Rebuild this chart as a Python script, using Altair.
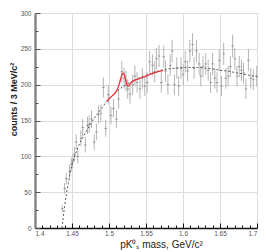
import altair as alt
import pandas as pd

# ---- data ----
mass = [1.4369, 1.4400, 1.4423, 1.4467, 1.4490, 1.4510, 1.4533, 1.4556, 1.4578,
        1.4620, 1.4644, 1.4680, 1.4710, 1.4733, 1.4764, 1.4800, 1.4830, 1.4858,
        1.4890, 1.4924, 1.4956, 1.4990, 1.5027, 1.5060, 1.5100, 1.5130, 1.5173,
        1.5204, 1.5230, 1.5253, 1.5284, 1.5320, 1.5350, 1.5380, 1.5418, 1.5450,
        1.5484, 1.5516, 1.5550, 1.5587, 1.5618, 1.5640, 1.5676, 1.5707, 1.5740,
        1.5764, 1.5796, 1.5827, 1.5853, 1.5884, 1.5916, 1.5942, 1.5973, 1.6004,
        1.6030, 1.6062, 1.6093, 1.6129, 1.6150, 1.6182, 1.6218, 1.6240, 1.6270,
        1.6307, 1.6340, 1.6373, 1.6400, 1.6430, 1.6460, 1.6490, 1.6520, 1.6550,
        1.6580, 1.6610, 1.6640, 1.6670, 1.6700, 1.6730, 1.6760, 1.6790, 1.6818,
        1.6850, 1.6884, 1.6916, 1.6950, 1.6996]
counts = [27, 55, 69, 79, 89, 93, 103, 120, 100,
          125, 140, 116, 143, 145, 152, 120, 134, 158,
          160, 196, 139, 186, 157, 167, 152, 180, 218,
          209, 205, 194, 187, 200, 212, 203, 194, 209,
          198, 203, 232, 227, 218, 236, 240, 203, 239,
          219, 200, 227, 247, 200, 223, 198, 223, 214,
          232, 219, 247, 256, 223, 247, 229, 212, 225,
          229, 220, 203, 229, 209, 203, 234, 198, 243,
          209, 212, 225, 254, 236, 212, 225, 220, 216,
          194, 234, 209, 207, 212]

bg_mass = [1.4365, 1.4380, 1.4400, 1.4425, 1.4450, 1.4475, 1.4500, 1.4550, 1.4600,
           1.4650, 1.4700, 1.4750, 1.4800, 1.4850, 1.4900, 1.4950, 1.5000, 1.5100,
           1.5200, 1.5300, 1.5400, 1.5500, 1.5600, 1.5700, 1.5800, 1.5900, 1.6000,
           1.6100, 1.6200, 1.6300, 1.6400, 1.6500, 1.6600, 1.6700, 1.6800, 1.6900,
           1.7000]
bg_val = [0, 14, 30, 48, 62, 76, 88, 104, 117,
          127, 136, 145, 153, 160, 167, 174, 180, 190,
          198, 204, 209, 213, 217, 220, 222, 223, 224,
          224, 224, 223, 222, 220, 219, 217, 215, 213,
          211]

sig_mass = [1.4970, 1.5000, 1.5050, 1.5100, 1.5130, 1.5160, 1.5180, 1.5195,
            1.5210, 1.5230, 1.5250, 1.5270, 1.5300, 1.5400, 1.5500, 1.5600,
            1.5730]
sig_val = [177, 180, 185, 191, 198, 209, 215, 216,
           213, 204, 198, 199, 203, 208, 212, 216,
           220]

x_major = [1.4, 1.45, 1.5, 1.55, 1.6, 1.65, 1.7]
x_minor = [1.4, 1.41, 1.42, 1.43, 1.44, 1.45, 1.46, 1.47, 1.48, 1.49, 1.5,
           1.51, 1.52, 1.53, 1.54, 1.55, 1.56, 1.57, 1.58, 1.59, 1.6,
           1.61, 1.62, 1.63, 1.64, 1.65, 1.66, 1.67, 1.68, 1.69, 1.7]
y_major = [0, 50, 100, 150, 200, 250, 300]
y_minor = [0, 25, 50, 75, 100, 125, 150, 175, 200, 225, 250, 275, 300]

W, H = 222, 215
FONT = "Liberation Sans"

pts = pd.DataFrame({"m": mass, "n": counts})
bg = pd.DataFrame({"m": bg_mass, "v": bg_val})
sig = pd.DataFrame({"m": sig_mass, "v": sig_val})

XS = alt.Scale(domain=[1.4, 1.7], nice=False, zero=False)
YS = alt.Scale(domain=[0, 300], nice=False)

bars = alt.Chart(pts).transform_calculate(
    lo="datum.n - sqrt(datum.n)", hi="datum.n + sqrt(datum.n)"
).mark_rule(color="#b4b4b4", strokeWidth=1).encode(
    x=alt.X("m:Q", scale=XS, axis=alt.Axis(
        orient="bottom", values=x_major, format="~g", ticks=False,
        domainColor="#111", domainWidth=1.5,
        labelFont=FONT, labelFontSize=6.5, labelColor="#555", labelPadding=2,
        title="pK⁰ₛ mass, GeV/c²", titleFont=FONT, titleFontSize=10,
        titleFontWeight="normal", titleColor="#222",
        titleX=126, titleY=19, titleAlign="center", titleBaseline="alphabetic")),
    y=alt.Y("lo:Q", scale=YS, axis=alt.Axis(
        orient="left", values=y_major, ticks=False,
        domainColor="#888", domainWidth=2.5,
        labelFont=FONT, labelFontSize=6.5, labelColor="#555", labelPadding=4,
        title="counts / 3 MeV/c²", titleFont=FONT, titleFontSize=9,
        titleFontWeight="bold", titleColor="#222", titleAngle=-90,
        titleX=-22, titleY=86, titleAlign="center", titleBaseline="middle")),
    y2="hi:Q",
)

marks = alt.Chart(pts).mark_tick(orient="horizontal", size=2.5, thickness=1,
                                 color="#777777").encode(
    x=alt.X("m:Q", scale=XS, axis=alt.Axis(
        orient="top", offset=-H, values=x_minor, labels=False, domain=False,
        tickColor="#111", tickWidth=1,
        tickSize={"condition": {"test": "abs(datum.value * 20 - round(datum.value * 20)) < 0.001",
                                "value": 5}, "value": 3},
        title=None)),
    y=alt.Y("n:Q", scale=YS, axis=alt.Axis(
        orient="right", offset=-W, values=y_minor, labels=False, domain=False,
        tickColor="#555", tickWidth=1,
        tickSize={"condition": {"test": "datum.value % 50 === 0", "value": 5},
                  "value": 3},
        title=None)),
)

bgline = alt.Chart(bg).mark_line(color="#555", strokeWidth=1, strokeDash=[2, 2],
                                 interpolate="monotone").encode(
    x=alt.X("m:Q", scale=XS, axis=None),
    y=alt.Y("v:Q", scale=YS, axis=None),
)

sigline = alt.Chart(sig).mark_line(color="#e8333c", strokeWidth=1.3,
                                   interpolate="monotone").encode(
    x=alt.X("m:Q", scale=XS, axis=None),
    y=alt.Y("v:Q", scale=YS, axis=None),
)

chart = alt.layer(bars, marks, bgline, sigline).resolve_axis(
    x="independent", y="independent"
).properties(
    width=W, height=H,
    autosize=alt.AutoSizeParams(type="none"),
    padding={"left": 27, "top": 5, "right": 1, "bottom": 24},
).configure_view(stroke="#777", strokeWidth=2).configure(background="white")

chart.save("out.html", embed_options={"renderer": "svg", "actions": False})
